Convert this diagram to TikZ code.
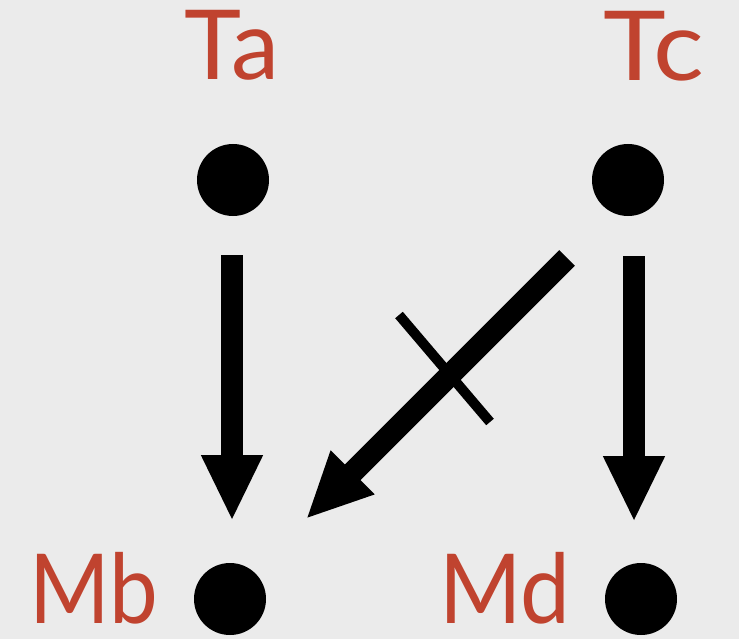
\documentclass[tikz,border=0pt]{standalone}
\usepackage{fontspec}
\setmainfont{Lato}
\usetikzlibrary{arrows.meta}
\definecolor{bgc}{HTML}{EBEBEB}
\definecolor{lbl}{HTML}{C0432F}
\tikzset{
  dot/.style={circle,fill=black,inner sep=0pt,outer sep=0pt,minimum size=72bp},
  lab/.style={text=lbl,font=\fontsize{97}{97}\selectfont,inner sep=0pt,text depth=0pt},
  bigarrow/.style={line width=22bp,-{Triangle[length=66bp,width=57bp]}},
  crossbar/.style={line width=10bp}
}
\begin{document}
\begin{tikzpicture}[x=1bp,y=-1bp]
\fill[bgc] (0,0) rectangle (739,639);
\useasboundingbox (0,0) rectangle (739,639);
\node[dot] (Ta) at (233,180) {};
\node[dot] (Tc) at (628,180) {};
\node[dot] (Mb) at (230,599) {};
\node[dot] (Md) at (641,599) {};
\node[lab,anchor=base] (lTa) at (232,80) {Ta};
\node[lab,anchor=base west] (lTc) at (603,81) {\scalebox{1.1}[1]{Tc}};
\node[lab,anchor=base west] (lMb) at (29,623) {\scalebox{0.9}[1]{Mb}};
\node[lab,anchor=base west] (lMd) at (439,623) {\scalebox{0.92}[1]{Md}};
\coordinate (a1) at (232,255);
\coordinate (a2) at (232,521);
\coordinate (b1) at (634,256);
\coordinate (b2) at (634,522);
\coordinate (c1) at (567,258);
\coordinate (c2) at (306,519);
\coordinate (x1) at (399,315);
\coordinate (x2) at (490,422);
\draw[bigarrow] (a1) -- (a2);
\draw[bigarrow] (b1) -- (b2);
\draw[bigarrow] (c1) -- (c2);
\draw[crossbar] (x1) -- (x2);
\end{tikzpicture}
\end{document}
